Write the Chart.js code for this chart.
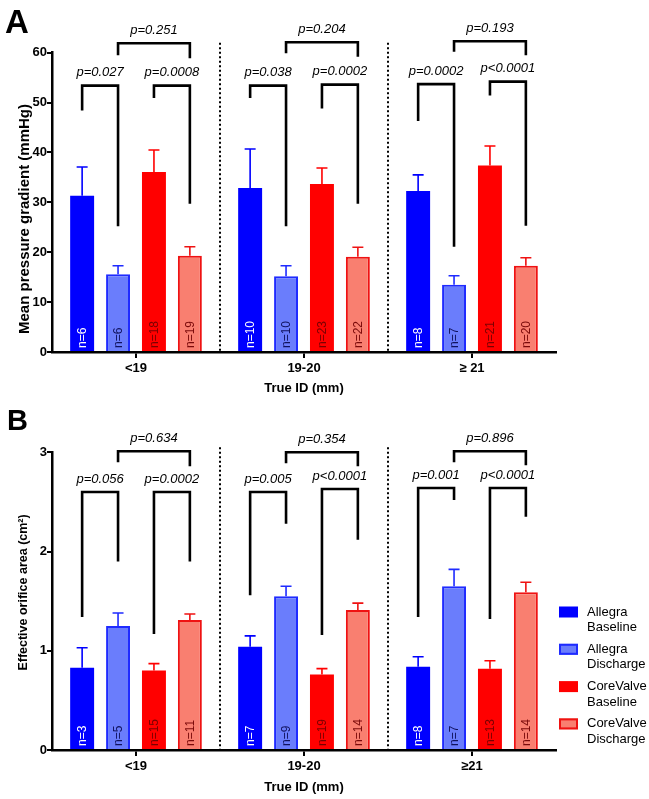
<!DOCTYPE html>
<html>
<head>
<meta charset="utf-8">
<script src="https://cdn.jsdelivr.net/npm/chart.js@4.4.1/dist/chart.umd.min.js"></script>
<style>
  body { margin: 0; background: #fff; }
  #wrap { position: relative; width: 649px; height: 799px; }
  canvas { position: absolute; left: 0; }
  #chartA { top: 0; }
  #chartB { top: 400px; }
</style>
</head>
<body>
<div id="wrap">
  <canvas id="chartA" width="649" height="400"></canvas>
  <canvas id="chartB" width="649" height="399"></canvas>
</div>
<script>
// categories
const sizesA = ["<19", "19-20", "≥ 21"]
const sizesB = ["<19", "19-20", "≥21"]
const seriesNames = ["Allegra Baseline", "Allegra Discharge", "CoreValve Baseline", "CoreValve Discharge"]

// panel A: mean pressure gradient (mmHg), mean / upper error / n
const gradAllegraBase = [31.3, 32.9, 32.3]
const gradAllegraDis = [15.6, 15.2, 13.5]
const gradCoreBase = [36.1, 33.7, 37.4]
const gradCoreDis = [19.3, 19.1, 17.3]
const gradErrAllegraBase = [5.8, 7.8, 3.2]
const gradErrAllegraDis = [1.7, 2.1, 1.8]
const gradErrCoreBase = [4.4, 3.2, 3.9]
const gradErrCoreDis = [1.8, 1.9, 1.6]
const gradN = [[6, 10, 8], [6, 10, 7], [18, 23, 21], [19, 22, 20]]

// panel B: effective orifice area (cm2)
const eoaAllegraBase = [0.83, 1.04, 0.84]
const eoaAllegraDis = [1.25, 1.55, 1.65]
const eoaCoreBase = [0.80, 0.76, 0.82]
const eoaCoreDis = [1.31, 1.41, 1.59]
const eoaErrAllegraBase = [0.20, 0.11, 0.10]
const eoaErrAllegraDis = [0.13, 0.10, 0.17]
const eoaErrCoreBase = [0.07, 0.06, 0.08]
const eoaErrCoreDis = [0.06, 0.07, 0.10]
const eoaN = [[3, 7, 8], [5, 9, 7], [15, 19, 13], [11, 14, 14]]

// comparison brackets: [group, fromSeries, toSeries, top, fromLegEnd, toLegEnd, label]
const bracketsA = [
  [0, 0, 1, 53.4, 48.4, 25.2, "p=0.027"],
  [0, 2, 3, 53.4, 50.9, 29.7, "p=0.0008"],
  [0, 1, 3, 61.9, 59.5, 58.9, "p=0.251"],
  [1, 0, 1, 53.4, 50.9, 25.2, "p=0.038"],
  [1, 2, 3, 53.6, 48.8, 29.7, "p=0.0002"],
  [1, 1, 3, 62.1, 59.9, 59.2, "p=0.204"],
  [2, 0, 1, 53.7, 46.3, 21.1, "p=0.0002"],
  [2, 2, 3, 54.2, 51.4, 25.3, "p<0.0001"],
  [2, 1, 3, 62.3, 60.2, 59.5, "p=0.193"],
]
const bracketsB = [
  [0, 0, 1, 2.60, 1.34, 1.90, "p=0.056"],
  [0, 2, 3, 2.60, 1.17, 1.90, "p=0.0002"],
  [0, 1, 3, 3.01, 2.90, 2.86, "p=0.634"],
  [1, 0, 1, 2.60, 1.56, 2.28, "p=0.005"],
  [1, 2, 3, 2.63, 1.16, 2.12, "p<0.0001"],
  [1, 1, 3, 3.00, 2.89, 2.86, "p=0.354"],
  [2, 0, 1, 2.64, 1.34, 2.52, "p=0.001"],
  [2, 2, 3, 2.64, 1.32, 2.35, "p<0.0001"],
  [2, 1, 3, 3.01, 2.90, 2.87, "p=0.896"],
]

const FONT = "'Liberation Sans', Arial, Helvetica, sans-serif"
Chart.defaults.font.family = FONT
Chart.defaults.color = "#000"

const styles = [
  { backgroundColor: "#0000ff", borderColor: "#0000ff", borderWidth: 0, nColor: "#ffffff" },
  { backgroundColor: "#6a7dfc", borderColor: "#1f2bff", borderWidth: 2, nColor: "#10125e" },
  { backgroundColor: "#ff0000", borderColor: "#ff0000", borderWidth: 0, nColor: "#7a0000" },
  { backgroundColor: "#f97f70", borderColor: "#ef1212", borderWidth: 2, nColor: "#7a0a0a" },
]

const makeDatasets = (values, errors, counts) =>
  values.map((data, i) => ({
    label: seriesNames[i],
    data: data,
    errors: errors[i],
    counts: counts[i],
    nColor: styles[i].nColor,
    backgroundColor: styles[i].backgroundColor,
    borderColor: styles[i].borderColor,
    borderWidth: styles[i].borderWidth,
    categoryPercentage: 0.855,
    barPercentage: 0.667,
  }))

// error whiskers (upper only) and n= labels inside bars
const errorBars = {
  id: "errorBars",
  afterDatasetsDraw(chart) {
    const ctx = chart.ctx
    const yScale = chart.scales.y
    chart.data.datasets.forEach((ds, i) => {
      chart.getDatasetMeta(i).data.forEach((bar, j) => {
        const top = yScale.getPixelForValue(ds.data[j] + ds.errors[j])
        ctx.save()
        ctx.strokeStyle = ds.borderColor
        ctx.lineWidth = 1.6
        ctx.beginPath()
        ctx.moveTo(bar.x, bar.y)
        ctx.lineTo(bar.x, top)
        ctx.moveTo(bar.x - 5.5, top)
        ctx.lineTo(bar.x + 5.5, top)
        ctx.stroke()

        ctx.translate(bar.x, chart.chartArea.bottom - 4)
        ctx.rotate(-Math.PI / 2)
        ctx.fillStyle = ds.nColor
        ctx.font = "12px " + FONT
        ctx.textAlign = "left"
        ctx.textBaseline = "middle"
        ctx.fillText("n=" + ds.counts[j], 0, 0.5)
        ctx.restore()
      })
    })
  },
}

// significance brackets, dotted group separators, panel letter, optional legend
const decorations = {
  id: "decorations",
  afterDraw(chart, args, opts) {
    const ctx = chart.ctx
    const xScale = chart.scales.x
    const yScale = chart.scales.y
    const area = chart.chartArea

    // dotted separators between size groups
    ctx.save()
    ctx.strokeStyle = "#000"
    ctx.lineWidth = 2
    ctx.setLineDash([2, 2.5])
    for (let i = 0; i < xScale.ticks.length - 1; i++) {
      const x = (xScale.getPixelForTick(i) + xScale.getPixelForTick(i + 1)) / 2
      ctx.beginPath()
      ctx.moveTo(x, yScale.getPixelForValue(opts.sepTop))
      ctx.lineTo(x, area.bottom)
      ctx.stroke()
    }
    ctx.restore()

    // brackets
    ctx.save()
    ctx.strokeStyle = "#000"
    ctx.lineWidth = 2.6
    ctx.lineJoin = "miter"
    ctx.lineCap = "butt"
    ctx.fillStyle = "#000"
    ctx.font = "italic 13px " + FONT
    ctx.textAlign = "center"
    ctx.textBaseline = "middle"
    opts.brackets.forEach(([g, a, b, top, legA, legB, label]) => {
      const x1 = chart.getDatasetMeta(a).data[g].x
      const x2 = chart.getDatasetMeta(b).data[g].x
      const yTop = yScale.getPixelForValue(top)
      ctx.beginPath()
      ctx.moveTo(x1, yScale.getPixelForValue(legA))
      ctx.lineTo(x1, yTop)
      ctx.lineTo(x2, yTop)
      ctx.lineTo(x2, yScale.getPixelForValue(legB))
      ctx.stroke()
      ctx.fillText(label, (x1 + x2) / 2, yTop - 13)
    })
    ctx.restore()

    // panel letter
    ctx.save()
    ctx.fillStyle = "#000"
    ctx.font = "bold " + opts.letterSize + "px " + FONT
    ctx.textBaseline = "alphabetic"
    ctx.fillText(opts.letter, opts.letterX, opts.letterY)
    ctx.restore()

    // legend with two-line labels
    if (opts.legend) {
      ctx.save()
      ctx.font = "13px " + FONT
      ctx.textBaseline = "middle"
      chart.data.datasets.forEach((ds, i) => {
        const cy = opts.legendTop + i * 37.3
        const bx = opts.legendLeft
        ctx.fillStyle = ds.backgroundColor
        ctx.fillRect(bx, cy - 5.5, 19, 11)
        if (ds.borderWidth) {
          ctx.strokeStyle = ds.borderColor
          ctx.lineWidth = 2
          ctx.strokeRect(bx + 1, cy - 4.5, 17, 9)
        }
        ctx.fillStyle = "#000"
        const lines = ds.label.split(" ")
        lines.forEach((line, k) => ctx.fillText(line, bx + 28, cy + k * 15.5))
      })
      ctx.restore()
    }
  },
}

const axisFont = { size: 13, weight: "bold" }

const makeOptions = (yMax, yStep, yTitle, titleSize, plotTop, plotBottomGap, deco) => ({
  responsive: false,
  animation: false,
  layout: { padding: { top: plotTop, right: 93, left: 0, bottom: 0 } },
  plugins: {
    legend: { display: false },
    tooltip: { enabled: false },
    decorations: deco,
  },
  scales: {
    x: {
      ticks: { color: "#000", font: axisFont, padding: 3 },
      grid: { offset: false, drawOnChartArea: false, drawTicks: true, tickLength: 6, color: "#000", lineWidth: 2 },
      border: { color: "#000", width: 2.5 },
      title: { display: true, text: "True ID (mm)", color: "#000", font: axisFont, padding: { top: 0, bottom: 4 } },
      afterFit: (scale) => { scale.height = plotBottomGap },
    },
    y: {
      min: 0,
      max: yMax,
      ticks: { stepSize: yStep, color: "#000", font: axisFont, padding: 0 },
      grid: { drawOnChartArea: false, drawTicks: true, tickLength: 5, color: "#000", lineWidth: 2 },
      border: { color: "#000", width: 2.5 },
      title: { display: true, text: yTitle, color: "#000", font: { size: titleSize, weight: "bold" }, padding: { top: 16, bottom: 0 } },
      afterFit: (scale) => { scale.width = 52 },
    },
  },
})

const drawPanel = (canvas, labels, datasets, options) =>
  new Chart(canvas.getContext("2d"), {
    type: "bar",
    data: { labels: labels, datasets: datasets },
    options: options,
    plugins: [errorBars, decorations],
  })

drawPanel(
  document.getElementById("chartA"),
  sizesA,
  makeDatasets(
    [gradAllegraBase, gradAllegraDis, gradCoreBase, gradCoreDis],
    [gradErrAllegraBase, gradErrAllegraDis, gradErrCoreBase, gradErrCoreDis],
    gradN
  ),
  makeOptions(60, 10, "Mean pressure gradient (mmHg)" + " ".repeat(8), 15, 52.7, 48, {
    brackets: bracketsA, sepTop: 62, letter: "A", letterSize: 33, letterX: 5, letterY: 33,
  })
)

drawPanel(
  document.getElementById("chartB"),
  sizesB,
  makeDatasets(
    [eoaAllegraBase, eoaAllegraDis, eoaCoreBase, eoaCoreDis],
    [eoaErrAllegraBase, eoaErrAllegraDis, eoaErrCoreBase, eoaErrCoreDis],
    eoaN
  ),
  makeOptions(3, 1, " ".repeat(5) + "Effective orifice area (cm²)", 12.5, 52.3, 49, {
    brackets: bracketsB, sepTop: 3.05, letter: "B", letterSize: 29, letterX: 7, letterY: 30,
    legend: true, legendTop: 212, legendLeft: 559,
  })
)
</script>
</body>
</html>
